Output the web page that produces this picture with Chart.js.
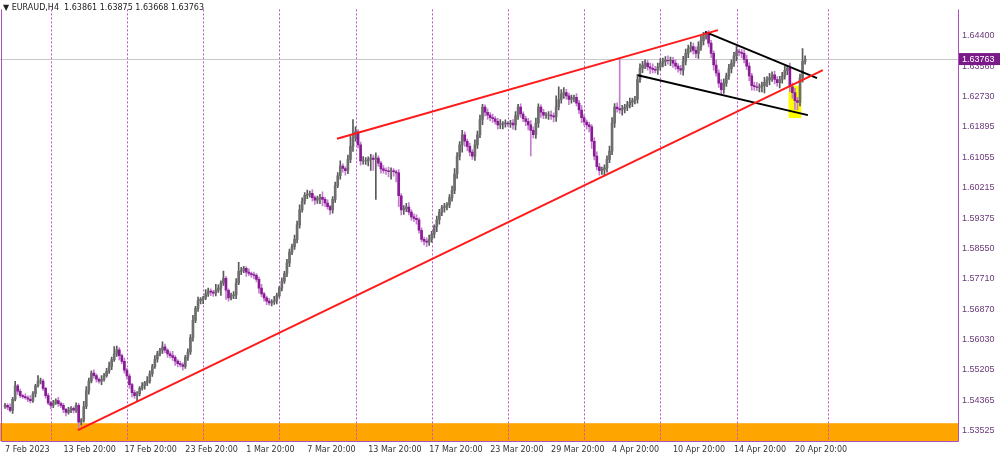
<!DOCTYPE html>
<html><head><meta charset="utf-8">
<script src="https://cdn.jsdelivr.net/npm/chart.js@4/dist/chart.umd.min.js"></script>
<style>html,body{margin:0;padding:0;background:#fff}#w{position:relative;width:1000px;height:457px}</style>
</head><body><div id="w"><canvas id="c" width="1000" height="457"></canvas></div>
<script>
// Close prices (x 1e-4), EURAUD H4
const closes = [
15423,15418,15409,15440,15477,15462,15450,15447,15444,15440,
15436,15455,15477,15490,15490,15470,15450,15430,15423,15430,
15436,15428,15423,15412,15404,15410,15415,15410,15423,15377,
15382,15420,15463,15490,15512,15505,15495,15490,15495,15505,
15517,15530,15549,15565,15576,15560,15544,15520,15504,15480,
15458,15450,15455,15470,15477,15485,15490,15510,15530,15550,
15565,15575,15584,15575,15565,15560,15555,15545,15538,15535,
15530,15555,15570,15610,15657,15690,15711,15715,15719,15730,
15738,15735,15732,15740,15746,15760,15773,15740,15719,15725,
15727,15760,15792,15795,15800,15790,15786,15783,15781,15770,
15746,15730,15719,15710,15705,15708,15711,15725,15746,15765,
15786,15815,15845,15860,15880,15920,15961,15985,16001,16004,
16007,15995,15988,15992,15996,15990,15980,15970,15961,15990,
16028,16055,16082,16075,16069,16100,16136,16160,16176,16140,
16096,16096,16096,16100,16104,16100,16104,16090,16074,16070,
16069,16066,16069,16066,16063,16000,15961,15965,15969,15955,
15942,15938,15934,15905,15880,15875,15872,15880,15894,15915,
15934,15955,15967,15970,15975,15995,16015,16060,16109,16140,
16168,16150,16136,16120,16109,16140,16168,16210,16244,16230,
16222,16215,16212,16205,16195,16198,16198,16200,16198,16200,
16195,16220,16244,16225,16212,16205,16195,16180,16168,16200,
16244,16230,16222,16222,16222,16220,16217,16245,16265,16280,
16284,16275,16265,16270,16271,16255,16236,16215,16203,16195,
16190,16150,16109,16080,16069,16072,16077,16100,16123,16200,
16244,16240,16236,16240,16244,16250,16257,16262,16265,16320,
16351,16360,16365,16355,16351,16348,16346,16355,16365,16370,
16373,16372,16373,16365,16357,16350,16346,16370,16392,16405,
16411,16400,16392,16410,16427,16440,16446,16420,16392,16360,
16338,16310,16292,16310,16330,16350,16365,16385,16397,16395,
16392,16375,16357,16330,16303,16300,16298,16300,16303,16312,
16319,16325,16333,16320,16311,16320,16330,16345,16351,16300,
16284,16262,16257,16325,16370,16376];
const firstOpen = 15420;
// upper / lower wick lengths (x 1e-4)
const wickHi = [
6,4,9,5,12,4,6,3,8,5, 10,6,4,15,8,5,3,6,4,7, 5,9,4,6,3,8,5,4,7,6,
5,14,12,8,6,9,5,4,10,6, 8,12,7,20,10,6,4,9,5,6, 4,7,6,5,9,4,12,8,6,10,
7,5,14,8,4,6,12,5,4,7, 5,6,9,8,14,6,10,5,4,12, 8,6,5,16,9,6,20,5,4,7,
9,12,25,8,6,5,9,4,7,5, 6,10,4,5,8,6,12,7,5,9, 6,10,8,7,12,10,14,9,8,12,
6,10,5,7,8,15,6,9,4,8, 10,9,14,6,5,12,30,50,14,6, 8,12,9,7,10,8,14,6,5,9,
7,10,8,6,5,9,6,8,10,12, 6,8,10,5,7,6,9,12,8,5, 10,8,7,9,6,8,12,15,10,9,
12,8,6,9,7,14,10,12,8,6, 9,7,10,6,8,12,6,9,5,8, 10,12,8,9,6,7,8,12,10,14,
9,6,8,7,10,12,8,30,35,12, 14,9,8,7,6,10,8,12,9,6, 8,6,10,12,9,7,8,10,14,15,
10,12,140,9,8,10,12,7,9,14, 12,10,9,8,10,12,8,10,12,9, 10,12,9,8,10,7,9,14,12,10,
12,9,10,14,12,10,6,9,8,7, 14,9,10,12,8,12,9,10,14,7, 8,10,12,9,7,10,12,8,10,14,
9,12,8,10,8,9,10,12,8,14, 10,12,9,10,35,9];
const wickLo = [
5,7,4,8,5,9,6,5,4,7, 6,5,9,4,8,6,7,5,9,6, 4,8,6,9,10,5,7,8,6,16,
8,5,6,9,5,7,8,6,10,5, 4,6,9,5,7,12,6,8,9,10, 12,8,14,6,5,9,8,6,7,5,
8,6,9,7,10,6,8,12,9,6, 10,5,8,7,10,6,8,9,12,5, 7,10,9,8,6,20,7,25,9,6,
8,10,5,9,7,12,6,8,10,7, 14,8,9,10,6,8,7,9,5,8, 6,9,10,7,8,10,9,6,8,9,
8,10,12,9,14,18,9,7,12,9, 8,6,9,10,12,8,9,14,10,8, 12,9,10,14,30,30,110,9,12,8,
10,14,20,12,25,30,14,12,9,8, 10,9,12,8,7,10,12,9,8,10, 14,12,10,12,9,8,10,9,12,10,
20,14,12,10,9,12,10,8,14,10, 12,9,10,8,12,10,14,9,8,10, 12,14,10,9,8,12,14,70,9,10,
12,14,10,9,12,10,14,12,9,10, 12,9,14,10,12,8,10,14,9,12, 14,20,10,9,12,10,14,12,9,10,
12,10,9,14,12,10,8,12,9,10, 8,12,10,9,14,10,8,12,9,10, 12,10,14,12,9,10,12,14,10,12,
9,10,12,14,10,12,9,10,12,14, 9,12,14,10,9,10,12,9,14,10, 12,9,10,14,12,10,9,12,14,20,
12,14,10,12,9,14,10,9,12,14, 16,25,20,10,12,8];
const tickIdx = [0,23,47,71,95,119,143,167,191,215,239,263,287,311];
const tickText = ['7 Feb 2023','13 Feb 20:00','17 Feb 20:00','23 Feb 20:00','1 Mar 20:00','7 Mar 20:00','13 Mar 20:00','17 Mar 20:00','23 Mar 20:00','29 Mar 20:00','4 Apr 20:00','10 Apr 20:00','14 Apr 20:00','20 Apr 20:00'];
const sepIdx = [18,48,78,108,138,168,198,228,258,288,324];
const priceTicks = [1.64400,1.63560,1.62730,1.61895,1.61055,1.60215,1.59375,1.58550,1.57710,1.56870,1.56030,1.55205,1.54365,1.53525];
const lastPrice = 1.63763;
const redUpper = [{x:130.7,y:1.6157},{x:280.7,y:1.6456}];
const redLower = [{x:28.7,y:1.5355},{x:322,y:1.6346}];
const blackUpper = [{x:275.6,y:1.6451},{x:319.7,y:1.6324}];
const blackLower = [{x:249.2,y:1.6332},{x:316.1,y:1.6222}];
const supportZone = [1.5325,1.5374];
const yellowBox = {x0:308.5,x1:313.5,y0:1.6214,y1:1.6303};

const wicks=[],bodies=[],bodyCol=[],wickCol=[];
for(let i=0;i<closes.length;i++){
  const o=(i?closes[i-1]:firstOpen)/1e4, c=closes[i]/1e4;
  const hi=Math.max(o,c)+wickHi[i]/1e4, lo=Math.min(o,c)-wickLo[i]/1e4;
  const up=c>=o;
  wicks.push({x:i,y:[lo,hi]});
  bodies.push({x:i,y:[Math.min(o,c),Math.max(o,c)+ (Math.abs(c-o)<0.00005?0.00005:0)]});
  bodyCol.push(up?'#6e6e6e':'#8a1a95');
  wickCol.push(up?'#5a5a5a':'#c27fcc');
}
const deco={id:'deco',
 beforeDatasetsDraw(ch){const {ctx,scales:{x,y},chartArea:a}=ch;ctx.save();
  ctx.fillStyle='#ffa500';const t=y.getPixelForValue(supportZone[1]);ctx.fillRect(a.left,t,a.right-a.left,a.bottom-t);
  ctx.strokeStyle='#c050c8';ctx.setLineDash([2,2]);ctx.lineWidth=1;
  sepIdx.forEach(s=>{const px=Math.round(x.getPixelForValue(s))+0.5;ctx.beginPath();ctx.moveTo(px,a.top);ctx.lineTo(px,a.bottom);ctx.stroke();});
  ctx.setLineDash([]);ctx.strokeStyle='#c8c8c8';const py=Math.round(y.getPixelForValue(lastPrice))+0.5;
  ctx.beginPath();ctx.moveTo(a.left,py);ctx.lineTo(a.right,py);ctx.stroke();
  ctx.fillStyle='#ffff00';const bx=x.getPixelForValue(yellowBox.x0),bx1=x.getPixelForValue(yellowBox.x1),by=y.getPixelForValue(yellowBox.y1),by1=y.getPixelForValue(yellowBox.y0);
  ctx.fillRect(bx,by,bx1-bx,by1-by);ctx.restore();},
 afterDraw(ch){const {ctx,scales:{y},chartArea:a}=ch;ctx.save();
  ctx.strokeStyle='#b050c0';ctx.lineWidth=1;ctx.beginPath();ctx.moveTo(a.left+1.5,a.top);ctx.lineTo(a.left+1.5,a.bottom+0.5);ctx.lineTo(a.right+0.5,a.bottom+0.5);ctx.lineTo(a.right+0.5,a.top);ctx.stroke();
  const py=y.getPixelForValue(lastPrice);ctx.fillStyle='#7a1a88';ctx.fillRect(a.right+1,py-6,41,12);
  ctx.fillStyle='#fff';ctx.font='9px "Liberation Sans"';ctx.textBaseline='middle';ctx.fillText(lastPrice.toFixed(5),a.right+4,py+0.5);
  ctx.fillStyle='#222';ctx.font='8px "DejaVu Sans"';ctx.fillText('\u25BC EURAUD,H4  1.63861 1.63875 1.63668 1.63763',3,8);
  ctx.restore();}};
const lineDs=(d,c)=>({type:'line',data:d,borderColor:c,borderWidth:2,pointRadius:0,order:0});
new Chart(document.getElementById('c'),{type:'bar',
 data:{datasets:[
  {data:wicks,backgroundColor:wickCol,barThickness:1,grouped:false,order:2},
  {data:bodies,backgroundColor:bodyCol,barThickness:2,grouped:false,order:1},
  lineDs(redUpper,'#ff1a1a'),lineDs(redLower,'#ff1a1a'),lineDs(blackUpper,'#000'),lineDs(blackLower,'#000')]},
 options:{responsive:false,animation:false,events:[],
  layout:{padding:{left:0,top:0,right:0,bottom:0}},
  plugins:{legend:{display:false},tooltip:{enabled:false}},
  scales:{
   x:{type:'linear',offset:false,min:-1.97,max:375.2,grid:{display:false,offset:false,drawTicks:false},border:{display:false},
      afterBuildTicks(s){s.ticks=tickIdx.map(v=>({value:v}));},
      afterFit(s){s.height=16;},
      ticks:{autoSkip:false,maxRotation:0,align:'start',padding:4,color:'#333',font:{family:'DejaVu Sans',size:8},
        callback:(v)=>{const k=tickIdx.indexOf(v);return k>=0?tickText[k]:'';}}},
   y:{position:'right',min:1.5325,max:1.6513,grid:{display:false,drawTicks:false},border:{display:false},
      afterBuildTicks(s){s.ticks=priceTicks.map(v=>({value:v}));},
      afterFit(s){s.width=42;},
      ticks:{padding:4,color:'#6a3a7a',font:{family:'Liberation Sans',size:9},callback:v=>v.toFixed(5)}}}},
 plugins:[deco]});
</script></body></html>
